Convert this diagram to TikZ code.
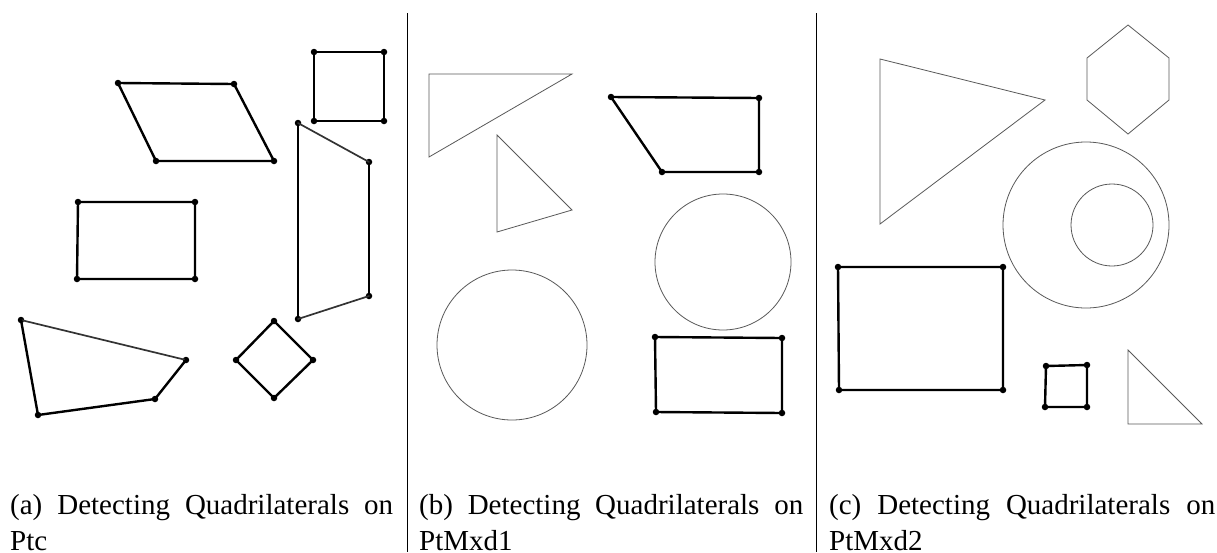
\documentclass[tikz,border=0pt]{standalone}
\usepackage{fontspec}
\setmainfont{Liberation Serif}
\newfontfamily\capfontfam{Liberation Serif}
\newcommand{\capfnt}{\capfontfam\fontsize{29}{37.5}\selectfont}
\tikzset{
  quad/.style={line width=2.4pt, line join=round, line cap=round},
  quadthin/.style={line width=1.7pt, draw=black!80, line cap=round},
  vtx/.style={circle, fill=black, inner sep=0pt, minimum size=6.5pt},
  thinshape/.style={line width=0.8pt, draw=black!65, line join=miter},
  divider/.style={line width=1pt, draw=black},
  captxt/.style={anchor=base west, inner sep=0pt, font=\capfnt},
}
\begin{document}
\begin{tikzpicture}[x=1pt, y=-1pt]
\useasboundingbox (0,0) rectangle (1217,552);
\fill[white] (0,0) rectangle (1217,552);

% dividers
\coordinate (v1t) at (407.5,13); \coordinate (v1b) at (407.5,552);
\coordinate (v2t) at (816.5,13); \coordinate (v2b) at (816.5,552);
\draw[divider] (v1t) -- (v1b);
\draw[divider] (v2t) -- (v2b);

% ---------- panel a ----------
\node[vtx] (a1) at (118,83) {}; \node[vtx] (a2) at (234,84) {};
\node[vtx] (a3) at (274,161) {}; \node[vtx] (a4) at (156,161) {};
\draw[quad] (a1.center) -- (a2.center) -- (a3.center) -- (a4.center) -- cycle;

\node[vtx] (b1) at (314,52) {}; \node[vtx] (b2) at (384,52) {};
\node[vtx] (b3) at (384,121) {}; \node[vtx] (b4) at (314,121) {};
\draw[quad] (b1.center) -- (b2.center) -- (b3.center) -- (b4.center) -- cycle;

\node[vtx] (c1) at (78,202) {}; \node[vtx] (c2) at (195,202) {};
\node[vtx] (c3) at (195,279) {}; \node[vtx] (c4) at (77,279) {};
\draw[quad] (c1.center) -- (c2.center) -- (c3.center) -- (c4.center) -- cycle;

\node[vtx] (d1) at (298,123) {}; \node[vtx] (d2) at (369,162) {};
\node[vtx] (d3) at (369,296) {}; \node[vtx] (d4) at (298,319) {};
\draw[quad] (d2.center) -- (d3.center);
\draw[quad] (d4.center) -- (d1.center);
\draw[quadthin] (d1.center) -- (d2.center);
\draw[quadthin] (d3.center) -- (d4.center);

\node[vtx] (e1) at (21,320) {}; \node[vtx] (e2) at (186,360) {};
\node[vtx] (e3) at (155,399) {}; \node[vtx] (e4) at (38,415) {};
\draw[quadthin] (e1.center) -- (e2.center);
\draw[quad] (e2.center) -- (e3.center) -- (e4.center) -- (e1.center);

\node[vtx] (f1) at (274,321) {}; \node[vtx] (f2) at (313,360) {};
\node[vtx] (f3) at (274,398) {}; \node[vtx] (f4) at (236,360) {};
\draw[quad] (f1.center) -- (f2.center) -- (f3.center) -- (f4.center) -- cycle;

% ---------- panel b ----------
\draw[thinshape] (429,74) -- (572,74) -- (429,157) -- cycle;
\draw[thinshape] (497,135) -- (572,210) -- (497,232) -- cycle;
\draw[thinshape] (723,262) circle[radius=68];
\draw[thinshape] (512,345) circle[radius=75];

\node[vtx] (g1) at (611,97) {}; \node[vtx] (g2) at (759,98) {};
\node[vtx] (g3) at (759,172) {}; \node[vtx] (g4) at (662,172) {};
\draw[quad] (g1.center) -- (g2.center) -- (g3.center) -- (g4.center) -- cycle;

\node[vtx] (h1) at (655,337) {}; \node[vtx] (h2) at (782,338) {};
\node[vtx] (h3) at (782,413) {}; \node[vtx] (h4) at (656,412) {};
\draw[quad] (h1.center) -- (h2.center) -- (h3.center) -- (h4.center) -- cycle;

% ---------- panel c ----------
\draw[thinshape] (880,59) -- (1045,100) -- (880,224) -- cycle;
\draw[thinshape] (1128,25) -- (1169,58) -- (1169,100) -- (1128,134) -- (1087,100) -- (1087,58) -- cycle;
\draw[thinshape] (1086,225) circle[radius=83];
\draw[thinshape] (1112,225) circle[radius=41];
\draw[thinshape] (1128,350) -- (1128,424) -- (1202,424) -- cycle;

\node[vtx] (i1) at (838,267) {}; \node[vtx] (i2) at (1003,267) {};
\node[vtx] (i3) at (1003,390) {}; \node[vtx] (i4) at (839,390) {};
\draw[quad] (i1.center) -- (i2.center) -- (i3.center) -- (i4.center) -- cycle;

\node[vtx] (j1) at (1046,366) {}; \node[vtx] (j2) at (1087,365) {};
\node[vtx] (j3) at (1087,407) {}; \node[vtx] (j4) at (1045,407) {};
\draw[quad] (j1.center) -- (j2.center) -- (j3.center) -- (j4.center) -- cycle;

% ---------- captions ----------
\node[captxt] (capa1) at (10,514) {\makebox[383pt][s]{(a) Detecting Quadrilaterals on}};
\node[captxt] (capa2) at (10,550.5) {Ptc};
\node[captxt] (capb1) at (419,514) {\makebox[384pt][s]{(b) Detecting Quadrilaterals on}};
\node[captxt] (capb2) at (419,550.5) {PtMxd1};
\node[captxt] (capc1) at (829,514) {\makebox[386pt][s]{(c) Detecting Quadrilaterals on}};
\node[captxt] (capc2) at (829,550.5) {PtMxd2};
\end{tikzpicture}
\end{document}
